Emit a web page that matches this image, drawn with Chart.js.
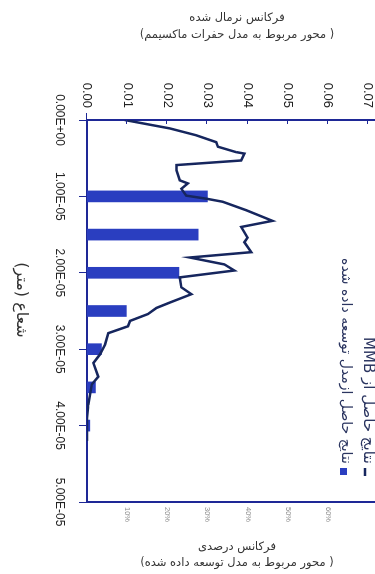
<!DOCTYPE html>
<html>
<head>
<meta charset="utf-8">
<script src="https://cdn.jsdelivr.net/npm/chart.js@4.4.0/dist/chart.umd.min.js"></script>
<style>
  html, body { margin: 0; padding: 0; background: #fff; overflow: hidden; }
  /* the chart is laid out lying on its side and turned upright here */
  #wrap {
    position: absolute; left: 0; top: 0;
    width: 574px; height: 375px;
    transform-origin: 0 0;
    transform: translate(375px, 0) rotate(90deg);
  }
</style>
</head>
<body>
<div id="wrap"><canvas id="chart" width="574" height="375"></canvas></div>
<script>
// radius axis (m)
const radiusTicks = [0, 1e-5, 2e-5, 3e-5, 4e-5, 5e-5];
const radiusLabels = ['0.00E+00', '1.00E-05', '2.00E-05', '3.00E-05', '4.00E-05', '5.00E-05'];

// normalised frequency axis
const freqTicks = [0, 0.01, 0.02, 0.03, 0.04, 0.05, 0.06, 0.07];
const freqLabels = ['0.00', '0.01', '0.02', '0.03', '0.04', '0.05', '0.06', '0.07'];

// percent frequency axis
const pctTicks = [10, 20, 30, 40, 50, 60];
const pctLabels = ['10%', '20%', '30%', '40%', '50%', '60%'];

// MMB curve
const mmbRadius = [0, 0.11e-5, 0.2e-5, 0.29e-5, 0.35e-5, 0.42e-5, 0.44e-5, 0.53e-5, 0.59e-5, 0.66e-5,
  0.79e-5, 0.83e-5, 0.9e-5, 0.99e-5, 1.03e-5, 1.07e-5, 1.18e-5, 1.32e-5, 1.4e-5, 1.54e-5,
  1.6e-5, 1.73e-5, 1.8e-5, 1.89e-5, 1.97e-5, 2.06e-5, 2.19e-5, 2.28e-5, 2.39e-5, 2.46e-5,
  2.54e-5, 2.63e-5, 2.7e-5, 2.79e-5, 2.94e-5, 3.07e-5, 3.18e-5, 3.36e-5, 3.46e-5, 3.73e-5, 3.9e-5, 4.2e-5];
const mmbFreq = [0.0094, 0.0206, 0.0272, 0.0322, 0.0326, 0.0371, 0.0392, 0.0384, 0.0223, 0.0223,
  0.0231, 0.0251, 0.0235, 0.0247, 0.0297, 0.0338, 0.0396, 0.0462, 0.0384, 0.0400,
  0.0392, 0.0409, 0.0256, 0.0342, 0.0367, 0.0231, 0.0235, 0.0260, 0.0206, 0.0173,
  0.0152, 0.0107, 0.0102, 0.0053, 0.0045, 0.0032, 0.0016, 0.0028, 0.0012, 0.0003, 0, 0];

// developed model bars
const modelRadius = [1.0e-5, 1.5e-5, 2.0e-5, 2.5e-5, 3.0e-5, 3.5e-5, 4.0e-5];
const modelPct = [30, 27.7, 22.9, 9.8, 3.6, 2.1, 0.7];

const mmbLabel = 'نتایج حاصل از MMB';
const modelLabel = 'نتایج حاصل ازمدل توسعه داده شده';
const freqTitle = ['فرکانس نرمال شده', '( محور مربوط به مدل حفرات ماکسیمم)'];
const pctTitle = ['فرکانس درصدی', '( محور مربوط به مدل توسعه داده شده)'];
const radiusTitle = 'شعاع (متر)';

const axisColor = '#1e2896';
const fa = 'DejaVu Sans, sans-serif';
const latin = 'Liberation Sans, Arial, sans-serif';

// titles and legend, drawn lying on the side like the rest of the chart
const sideNotes = {
  id: 'sideNotes',
  afterDraw(chart) {
    const c = chart.ctx;
    const area = chart.chartArea;
    const yf = chart.scales.yFreq;
    c.save();

    // small ticks on the frequency axis pointing into the plot
    c.strokeStyle = axisColor;
    c.lineWidth = 1;
    freqTicks.forEach(v => {
      const p = Math.round(yf.getPixelForValue(v)) + 0.5;
      c.beginPath();
      c.moveTo(area.left - (v === 0 ? 7 : 0), p);
      c.lineTo(area.left + 4, p);
      c.stroke();
    });

    c.direction = 'rtl';
    c.fillStyle = '#333';
    c.textAlign = 'center';
    c.textBaseline = 'middle';
    const cy = (area.top + area.bottom) / 2 - 6;

    const upright = (lines, x0, gap) => {
      lines.forEach((t, i) => {
        c.save();
        c.translate(x0 + i * gap, cy);
        c.rotate(-Math.PI / 2);
        c.font = '11.5px ' + fa;
        c.fillText(t, 0, 0);
        c.restore();
      });
    };
    upright(freqTitle, 18, 17);
    upright(pctTitle, 547, 16);

    c.font = '16px ' + fa;
    c.fillText(radiusTitle, 300, 354);

    // legend
    const ds = chart.data.datasets;
    c.textAlign = 'right';
    c.fillStyle = '#2b3560';
    c.font = '15px ' + fa;
    c.fillText(ds[0].label, 464, 7);
    c.font = '14px ' + fa;
    c.fillText(ds[1].label, 464, 29);
    c.strokeStyle = ds[0].borderColor;
    c.lineWidth = 2.5;
    c.beginPath();
    c.moveTo(468, 10);
    c.lineTo(476, 10);
    c.stroke();
    c.fillStyle = ds[1].backgroundColor;
    c.fillRect(468, 28, 7, 7);

    c.restore();
  }
};

const ctx = document.getElementById('chart').getContext('2d');
const chart = new Chart(ctx, {
  type: 'bar',
  data: {
    datasets: [
      {
        type: 'line',
        label: mmbLabel,
        data: mmbRadius.map((r, i) => ({ x: r, y: mmbFreq[i] })),
        xAxisID: 'x',
        yAxisID: 'yFreq',
        borderColor: '#16265e',
        borderWidth: 2.5,
        pointRadius: 0,
        tension: 0,
        order: 0
      },
      {
        type: 'bar',
        label: modelLabel,
        data: modelRadius.map((r, i) => ({ x: r, y: modelPct[i] })),
        xAxisID: 'x',
        yAxisID: 'yPct',
        backgroundColor: '#2a3ec0',
        barThickness: 11,
        order: 1
      }
    ]
  },
  options: {
    responsive: false,
    animation: false,
    layout: { padding: 0 },
    plugins: { legend: { display: false }, tooltip: { enabled: false } },
    scales: {
      x: {
        type: 'linear',
        position: 'bottom',
        min: 0,
        max: 5e-5,
        offset: false,
        afterBuildTicks: s => { s.ticks = radiusTicks.map(v => ({ value: v })); },
        afterFit: s => { s.height = 87; s.paddingLeft = 0; s.paddingRight = 0; },
        ticks: {
          autoSkip: false,
          maxRotation: 0,
          padding: 12,
          color: '#222',
          font: { family: latin, size: 12 },
          callback: (v, i) => radiusLabels[i]
        },
        grid: { display: true, offset: false, drawOnChartArea: false, drawTicks: true, tickLength: 8, tickColor: axisColor, tickWidth: 1 },
        border: { display: true, color: axisColor, width: 2 }
      },
      yFreq: {
        type: 'linear',
        position: 'left',
        min: 0,
        max: 0.07174,
        afterBuildTicks: s => { s.ticks = freqTicks.map(v => ({ value: v })); },
        afterFit: s => { s.width = 120; s.paddingTop = 0; s.paddingBottom = 0; },
        ticks: {
          padding: 12,
          color: '#222',
          font: { family: latin, size: 13 },
          callback: (v, i) => freqLabels[i]
        },
        grid: { display: true, drawOnChartArea: false, drawTicks: false },
        border: { display: true, color: axisColor, width: 2 }
      },
      yPct: {
        type: 'linear',
        position: 'right',
        min: 0,
        max: 71.74,
        afterBuildTicks: s => { s.ticks = pctTicks.map(v => ({ value: v })); },
        afterFit: s => { s.width = 72; s.paddingTop = 0; s.paddingBottom = 0; },
        ticks: {
          padding: 5,
          color: '#8c8c8c',
          font: { family: latin, size: 7.5 },
          callback: (v, i) => pctLabels[i]
        },
        grid: { display: true, drawOnChartArea: false, drawTicks: false },
        border: { display: true, color: axisColor, width: 2 }
      }
    }
  },
  plugins: [sideNotes]
});
</script>
</body>
</html>
